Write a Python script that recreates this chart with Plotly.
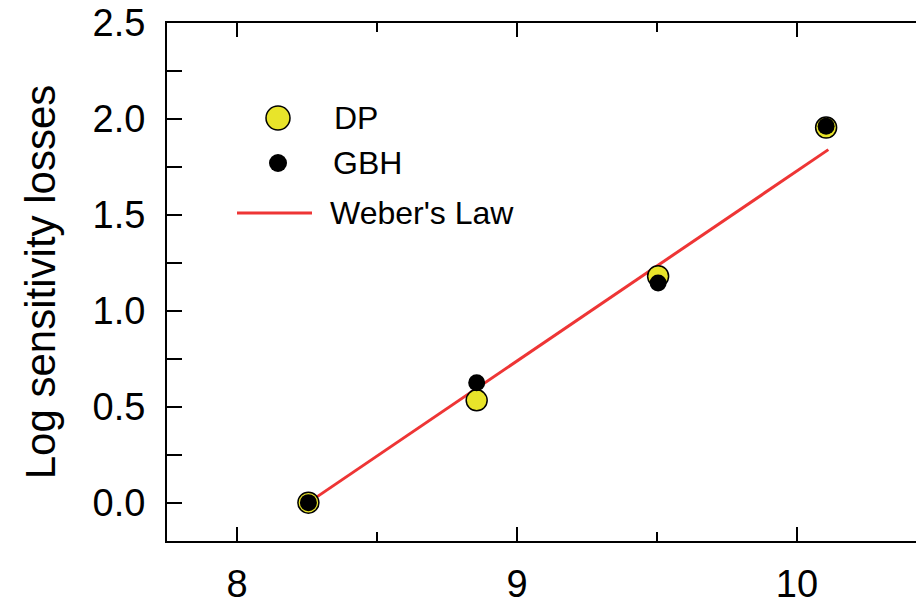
import plotly.graph_objects as go

# ---- data ----
x_vals = [8.255, 8.856, 9.504, 10.104]
dp_vals = [0.0, 0.533, 1.18, 1.955]
gbh_vals = [0.0, 0.625, 1.145, 1.962]
weber_x = [8.255, 10.112]
weber_y = [0.0, 1.84]
y_title = "Log sensitivity losses"
legend_names = ["DP", "GBH", "Weber's Law"]

YELLOW = "#E8E42A"
RED = "#EE3535"
FONT = "Liberation Sans, Arial, sans-serif"

# page body has an 8px default margin; size the figure to fill the 924x598 window
OFF = 8
W, H = 924 - OFF, 598 - OFF
# plot area in page pixels: left 167, right 924, top 23, bottom 541
ML, MR, MT, MB = 167 - OFF, 0, 23 - OFF, 598 - 541
PW = W - ML - MR
PH = H - MT - MB

fig = go.Figure()
fig.add_trace(go.Scatter(x=weber_x, y=weber_y, mode="lines",
                         line=dict(color=RED, width=3), name=legend_names[2],
                         showlegend=False))
fig.add_trace(go.Scatter(x=x_vals, y=dp_vals, mode="markers", name=legend_names[0],
                         marker=dict(size=21, color=YELLOW,
                                     line=dict(color="black", width=1.5)),
                         showlegend=False))
fig.add_trace(go.Scatter(x=x_vals, y=gbh_vals, mode="markers", name=legend_names[1],
                         marker=dict(size=17, color="black",
                                     line=dict(color="black", width=0)),
                         showlegend=False))

# ---- manual legend (page pixel positions converted to paper) ----
def px(xp):
    return (xp - OFF - ML) / PW

def py(yp):
    return (H - MB - (yp - OFF)) / PH

shapes = [
    dict(type="circle", xref="paper", yref="paper", xsizemode="pixel", ysizemode="pixel",
         xanchor=px(278), yanchor=py(118), x0=-12, x1=12, y0=-12, y1=12,
         fillcolor=YELLOW, line=dict(color="black", width=1.5)),
    dict(type="circle", xref="paper", yref="paper", xsizemode="pixel", ysizemode="pixel",
         xanchor=px(278), yanchor=py(163), x0=-9, x1=9, y0=-9, y1=9,
         fillcolor="black", line=dict(color="black", width=0)),
    dict(type="line", xref="paper", yref="paper", x0=px(237), x1=px(312),
         y0=py(213), y1=py(213), line=dict(color=RED, width=3)),
]
annotations = []
for name, xx, yy in zip(legend_names, [332, 331, 328], [118, 163, 213]):
    annotations.append(dict(text=name, xref="paper", yref="paper", x=px(xx), y=py(yy),
                            xanchor="left", yanchor="middle", showarrow=False,
                            font=dict(family=FONT, size=32, color="black")))

fig.update_layout(
    width=W, height=H,
    margin=dict(l=ML, r=MR, t=MT, b=MB, pad=0),
    plot_bgcolor="white", paper_bgcolor="white",
    showlegend=False,
    shapes=shapes, annotations=annotations,
    font=dict(family=FONT, color="black"),
)
fig.update_xaxes(
    range=[7.75, 7.75 + PW / 280.0], tickmode="linear", tick0=8, dtick=1,
    ticks="inside", ticklen=14, tickwidth=2, tickcolor="black",
    minor=dict(tickmode="linear", tick0=8, dtick=0.5, ticks="inside", ticklen=9,
               tickwidth=2, tickcolor="black"),
    showline=True, linecolor="black", linewidth=2, mirror="allticks",
    showgrid=False, zeroline=False, automargin=False,
    tickfont=dict(family=FONT, size=38, color="black"), ticklabelstandoff=8,
    ticklabeloverflow="allow",
)
fig.update_yaxes(
    range=[-0.2, 2.5], tickmode="linear", tick0=0, dtick=0.5, tickformat=".1f",
    ticks="inside", ticklen=15, tickwidth=2, tickcolor="black",
    minor=dict(tickmode="linear", tick0=0, dtick=0.25, ticks="inside", ticklen=15,
               tickwidth=2, tickcolor="black"),
    showline=True, linecolor="black", linewidth=2, mirror=False,
    showgrid=False, zeroline=False, automargin=False,
    tickfont=dict(family=FONT, size=38, color="black"), ticklabelstandoff=12,
    ticklabeloverflow="allow",
    title=dict(text=y_title, font=dict(family=FONT, size=42, color="black"), standoff=24),
)

fig.write_html("out.html")
